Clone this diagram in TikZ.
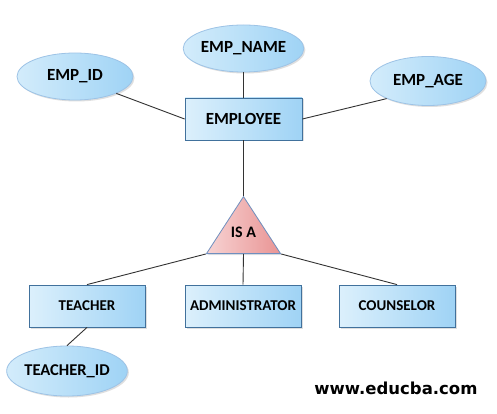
\documentclass[tikz,border=0pt]{standalone}
\usepackage{fontspec}
\setmainfont{Carlito}
\newfontfamily\webfont{DejaVu Sans}
\usepackage{tikz}
\usetikzlibrary{shapes.geometric}
\usetikzlibrary{shadows}

\definecolor{attrfill}{HTML}{D3ECFB}
\definecolor{attrdark}{HTML}{9FD3F5}
\definecolor{attrline}{HTML}{9DC3E6}
\definecolor{entline}{HTML}{41719C}
\definecolor{isalight}{HTML}{F7D3D3}
\definecolor{isadark}{HTML}{E99494}
\definecolor{isaline}{HTML}{6F8FBF}

\tikzset{
	attribute/.style={ellipse, draw=attrline, line width=0.8pt,
		left color=attrfill, right color=attrdark,
		minimum width=116pt, minimum height=47pt, inner sep=0pt,
		font=\fontsize{17}{17}\selectfont\bfseries,
		drop shadow={opacity=0.25, shadow xshift=1.5pt, shadow yshift=-1.5pt}},
	entity/.style={rectangle, draw=entline, line width=0.8pt,
		left color=attrfill!80!white, right color=attrdark,
		minimum width=117pt, minimum height=42pt, inner sep=0pt,
		font=\fontsize{15}{15}\selectfont\bfseries,
		drop shadow={opacity=0.25, shadow xshift=1.5pt, shadow yshift=-1.5pt}},
	link/.style={draw=black!80, line width=0.9pt}
}

\begin{document}
\begin{tikzpicture}[x=1pt, y=-1pt]
	\useasboundingbox[fill=white] (0,0) rectangle (497,414);

	% top entity and its attributes
	\node[entity, font=\fontsize{17}{17}\selectfont\bfseries] (employee) at (243.5,119) {EMPLOYEE};
	\node[attribute] (empname) at (243.5,48.5) {EMP\_NAME};
	\node[attribute] (empid) at (75,76.5) {EMP\_ID};
	\node[attribute, minimum height=49pt] (empage) at (428,81) {EMP\_AGE};

	% specialisation
	\node[isosceles triangle, shape border rotate=90, isosceles triangle stretches,
		minimum width=74pt, minimum height=57pt, inner sep=0pt,
		draw=isaline, line width=0.8pt, left color=isalight, right color=isadark,
		drop shadow={opacity=0.2, shadow xshift=1.5pt, shadow yshift=-1.5pt},
		anchor=lower side] (isa) at (243.5,254) {};
	\node[font=\fontsize{16}{16}\selectfont\bfseries] (isatext) at (243.5,232) {IS A};

	% sub entities
	\node[entity, minimum width=116pt] (teacher) at (87,306) {TEACHER};
	\node[entity, minimum width=116pt] (admin) at (243,306) {ADMINISTRATOR};
	\node[entity, minimum width=116pt] (counselor) at (397,306) {COUNSELOR};
	\node[attribute, minimum height=50pt, font=\fontsize{16.5}{16.5}\selectfont\bfseries] (teacherid) at (67,371) {TEACHER\_ID};

	\draw[link] (empname.south) -- (employee.north);
	\draw[link] (empid.south east) -- (employee.west);
	\draw[link] (empage.south west) -- (employee.east);
	\draw[link] (employee.south) -- (isa.apex);
	\draw[link] (isa.left corner) -- (teacher.north);
	\draw[link] (isa.lower side) -- (admin.north);
	\draw[link] (isa.right corner) -- (counselor.north);
	\draw[link] (teacher.south) -- (teacherid.north);

	\node[font=\webfont\fontsize{16.5}{16.5}\selectfont\bfseries, anchor=east] (site) at (481,388) {www.educba.com};
\end{tikzpicture}
\end{document}
